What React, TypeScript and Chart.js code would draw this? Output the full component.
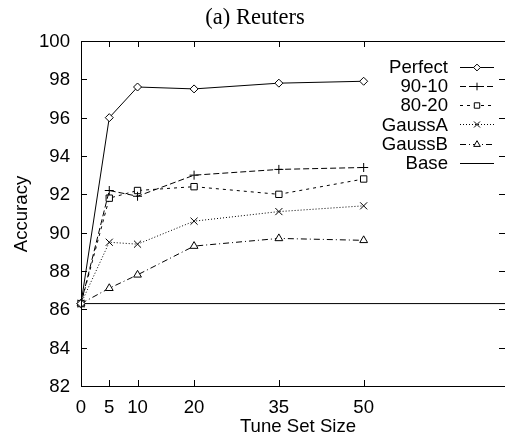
import React, { useEffect, useRef } from "react";
import { Chart, registerables } from "chart.js";
import { drawPoint } from "chart.js/helpers";

Chart.register(...registerables);

const tuneSizes = [0, 5, 10, 20, 35, 50];
const xTicks = [0, 5, 10, 20, 35, 50];
const yTicks = [82, 84, 86, 88, 90, 92, 94, 96, 98, 100];
const perfect = [86.3, 96.0, 97.6, 97.5, 97.8, 97.9];
const ninety10 = [86.3, 92.2, 91.9, 93.0, 93.3, 93.4];
const eighty20 = [86.3, 91.8, 92.2, 92.4, 92.0, 92.8];
const gaussA = [86.3, 89.5, 89.4, 90.6, 91.1, 91.4];
const gaussB = [86.3, 87.1, 87.8, 89.3, 89.7, 89.6];
const baseValue = 86.3;
const baseRange = [0, 75];

const SANS = '18.6px "Liberation Sans", Arial, sans-serif';
const SERIF = '22.5px "Liberation Serif", "Times New Roman", serif';

const pts = (ys: number[]) => ys.map((y, i) => ({ x: tuneSizes[i], y }));

const framePlugin = {
  id: "gnuFrame",
  afterDraw(chart: any) {
    const { ctx, chartArea: a, scales } = chart;
    const xs = scales.x;
    const ys = scales.y;
    ctx.save();
    ctx.strokeStyle = "#000";
    ctx.lineWidth = 1;
    ctx.setLineDash([]);
    ctx.beginPath();
    ctx.moveTo(Math.round(a.left) + 0.5, a.top);
    ctx.lineTo(Math.round(a.left) + 0.5, a.bottom);
    ctx.moveTo(a.left, Math.round(a.top) + 0.5);
    ctx.lineTo(a.right, Math.round(a.top) + 0.5);
    ctx.moveTo(a.left, Math.round(a.bottom) + 0.5);
    ctx.lineTo(a.right, Math.round(a.bottom) + 0.5);
    ctx.stroke();
    const tl = 6;
    ctx.beginPath();
    xTicks.forEach((v) => {
      const px = Math.round(xs.getPixelForValue(v)) + 0.5;
      ctx.moveTo(px, a.bottom);
      ctx.lineTo(px, a.bottom - tl);
      ctx.moveTo(px, a.top);
      ctx.lineTo(px, a.top + tl);
    });
    yTicks.forEach((v) => {
      const py = Math.round(ys.getPixelForValue(v)) + 0.5;
      ctx.moveTo(a.left, py);
      ctx.lineTo(a.left + tl, py);
      ctx.moveTo(a.right, py);
      ctx.lineTo(a.right - tl, py);
    });
    ctx.stroke();
    ctx.fillStyle = "#000";
    ctx.font = SANS;
    ctx.textAlign = "right";
    ctx.textBaseline = "middle";
    yTicks.forEach((v) => {
      ctx.fillText(String(v), a.left - 11, ys.getPixelForValue(v) + 1);
    });
    ctx.textAlign = "center";
    ctx.textBaseline = "alphabetic";
    xTicks.forEach((v) => {
      ctx.fillText(String(v), xs.getPixelForValue(v), 413);
    });
    ctx.fillText("Tune Set Size", 298, 432);
    ctx.save();
    ctx.translate(27, 214);
    ctx.rotate(-Math.PI / 2);
    ctx.fillText("Accuracy", 0, 0);
    ctx.restore();
    ctx.font = SERIF;
    ctx.fillText("(a) Reuters", 255, 24);
    ctx.font = SANS;
    const rowY0 = 66.5;
    const rowH = 19.3;
    chart.data.datasets.forEach((ds: any, i: number) => {
      const y = rowY0 + i * rowH;
      ctx.fillStyle = "#000";
      ctx.textAlign = "right";
      ctx.textBaseline = "middle";
      ctx.fillText(ds.label, 448, y + 1);
      ctx.strokeStyle = "#000";
      ctx.lineWidth = 1;
      ctx.setLineDash(ds.borderDash || []);
      ctx.beginPath();
      ctx.moveTo(460, Math.round(y) + 0.5);
      ctx.lineTo(494, Math.round(y) + 0.5);
      ctx.stroke();
      ctx.setLineDash([]);
      if (ds.pointRadius > 0) {
        ctx.fillStyle = "#fff";
        ctx.strokeStyle = "#000";
        ctx.lineWidth = 1;
        drawPoint(
          ctx,
          { pointStyle: ds.pointStyle, radius: ds.pointRadius * 0.85, rotation: 0, borderWidth: 1 },
          477,
          Math.round(y) + 0.5
        );
      }
    });
    ctx.restore();
  },
};

const mk = (label: string, data: number[], style: string, radius: number, dash: number[]) => ({
  label,
  data: pts(data),
  borderColor: "#000",
  borderWidth: 1,
  borderDash: dash,
  pointStyle: style,
  pointRadius: radius,
  pointBorderWidth: 1,
  pointBorderColor: "#000",
  pointBackgroundColor: "#fff",
  fill: false,
  tension: 0,
  clip: false,
});

export default function App() {
  const ref = useRef<HTMLCanvasElement>(null);
  useEffect(() => {
    if (!ref.current) return;
    const chart = new Chart(ref.current, {
      type: "line",
      data: {
        datasets: [
          mk("Perfect", perfect, "rectRot", 4, []),
          mk("90-10", ninety10, "cross", 4.5, [6, 3]),
          mk("80-20", eighty20, "rect", 4.5, [3, 4]),
          mk("GaussA", gaussA, "crossRot", 5, [1, 2]),
          mk("GaussB", gaussB, "triangle", 4.5, [6, 3, 1, 3]),
          {
            ...mk("Base", [], "circle", 0, []),
            data: baseRange.map((x) => ({ x, y: baseValue })),
          },
        ] as any,
      },
      options: {
        animation: false,
        responsive: false,
        devicePixelRatio: 1,
        layout: { padding: { left: 81, right: 0, top: 41, bottom: 53 } },
        plugins: { legend: { display: false }, tooltip: { enabled: false }, title: { display: false } },
        scales: {
          x: { type: "linear", min: 0, max: 75, display: false },
          y: { type: "linear", min: 82, max: 100, display: false },
        },
      },
      plugins: [framePlugin],
    });
    return () => chart.destroy();
  }, []);
  return (
    <div style={{ position: "absolute", left: 0, top: 0, width: 511, height: 439, background: "#fff" }}>
      <canvas ref={ref} width={511} height={439} style={{ width: 511, height: 439 }} />
    </div>
  );
}
